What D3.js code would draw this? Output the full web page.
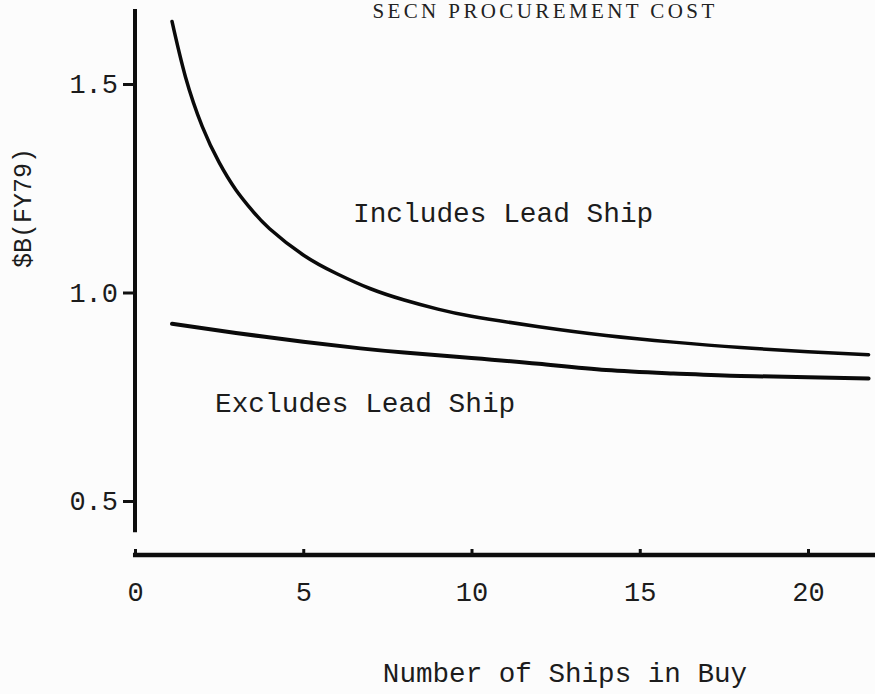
<!DOCTYPE html>
<html>
<head>
<meta charset="utf-8">
<script src="https://cdn.jsdelivr.net/npm/d3@7"></script>
<style>
  body { margin: 0; background: #fcfcfc; }
  svg { display: block; }
  .axis text { font-family: "Liberation Mono", "Courier New", monospace; font-size: 27px; fill: #1c1c1c; }
  .axis line { stroke: #111; stroke-width: 3; }
  .axis path { display: none; }
</style>
</head>
<body>
<div id="chart"></div>
<script>
// data
var shipsIncl = [1.1, 1.5, 2, 2.5, 3, 3.5, 4, 5, 6, 7, 8, 9, 10, 12, 14, 16, 18, 20, 21.8];
var costIncl  = [1.65, 1.517, 1.398, 1.312, 1.246, 1.195, 1.153, 1.09, 1.045, 1.009, 0.982, 0.96, 0.943, 0.918, 0.897, 0.881, 0.868, 0.858, 0.851];
var shipsExcl = [1.1, 3, 5, 6.7, 8, 10, 12, 14, 16, 18, 20, 21.8];
var costExcl  = [0.925, 0.903, 0.882, 0.866, 0.856, 0.843, 0.829, 0.814, 0.806, 0.8, 0.797, 0.794];
var xTicks = [0, 5, 10, 15, 20];
var yTicks = [0.5, 1.0, 1.5];

(function() {
  var width = 875, height = 694;

  var svg = d3.select("#chart")
    .append("svg")
    .attr("width", width)
    .attr("height", height);

  var xPositionScale = d3.scaleLinear()
    .domain([0, 20])
    .range([135, 808]);

  var yPositionScale = d3.scaleLinear()
    .domain([0.5, 1.5])
    .range([501, 84]);

  // title, cut off at the top like the scan
  svg.append("text")
    .attr("x", 545)
    .attr("y", 18)
    .attr("text-anchor", "middle")
    .attr("font-family", "Liberation Serif, Times New Roman, serif")
    .attr("font-size", 21)
    .attr("letter-spacing", 3.4)
    .attr("fill", "#222")
    .text("SECN PROCUREMENT COST");

  // axis lines
  svg.append("line")
    .attr("x1", xPositionScale(0)).attr("x2", xPositionScale(0))
    .attr("y1", yPositionScale(1.68)).attr("y2", yPositionScale(0.425))
    .attr("stroke", "#0d0d0d").attr("stroke-width", 4);

  svg.append("line")
    .attr("x1", xPositionScale(-0.06)).attr("x2", width)
    .attr("y1", 555).attr("y2", 555)
    .attr("stroke", "#0d0d0d").attr("stroke-width", 4.5);

  var yAxis = d3.axisLeft(yPositionScale)
    .tickValues(yTicks)
    .tickSize(12)
    .tickPadding(5)
    .tickFormat(d3.format(".1f"));
  svg.append("g")
    .attr("class", "axis y-axis")
    .attr("transform", "translate(" + xPositionScale(0) + ",0)")
    .call(yAxis);

  var xAxis = d3.axisBottom(xPositionScale)
    .tickValues(xTicks)
    .tickSizeInner(-6)
    .tickSizeOuter(0)
    .tickPadding(27);
  svg.append("g")
    .attr("class", "axis x-axis")
    .attr("transform", "translate(0,555)")
    .call(xAxis);

  // curves
  var line = d3.line()
    .x(function(d) { return xPositionScale(d[0]); })
    .y(function(d) { return yPositionScale(d[1]); })
    .curve(d3.curveNatural);

  svg.append("path")
    .datum(d3.zip(shipsIncl, costIncl))
    .attr("d", line)
    .attr("fill", "none")
    .attr("stroke", "#0a0a0a")
    .attr("stroke-width", 3.5)
    .attr("stroke-linecap", "round");

  svg.append("path")
    .datum(d3.zip(shipsExcl, costExcl))
    .attr("d", line)
    .attr("fill", "none")
    .attr("stroke", "#0a0a0a")
    .attr("stroke-width", 4)
    .attr("stroke-linecap", "round");

  // labels
  var mono = "Liberation Mono, Courier New, monospace";

  svg.append("text")
    .attr("x", 353).attr("y", 222)
    .attr("font-family", mono).attr("font-size", 27.8).attr("fill", "#1c1c1c")
    .text("Includes Lead Ship");

  svg.append("text")
    .attr("x", 215).attr("y", 412)
    .attr("font-family", mono).attr("font-size", 27.8).attr("fill", "#1c1c1c")
    .text("Excludes Lead Ship");

  svg.append("text")
    .attr("x", 565).attr("y", 682)
    .attr("text-anchor", "middle")
    .attr("font-family", mono).attr("font-size", 27.6).attr("fill", "#1c1c1c")
    .text("Number of Ships in Buy");

  svg.append("text")
    .attr("transform", "translate(31,208) rotate(-90)")
    .attr("text-anchor", "middle")
    .attr("font-family", mono).attr("font-size", 25).attr("fill", "#1c1c1c")
    .text("$B(FY79)");
})();
</script>
</body>
</html>
